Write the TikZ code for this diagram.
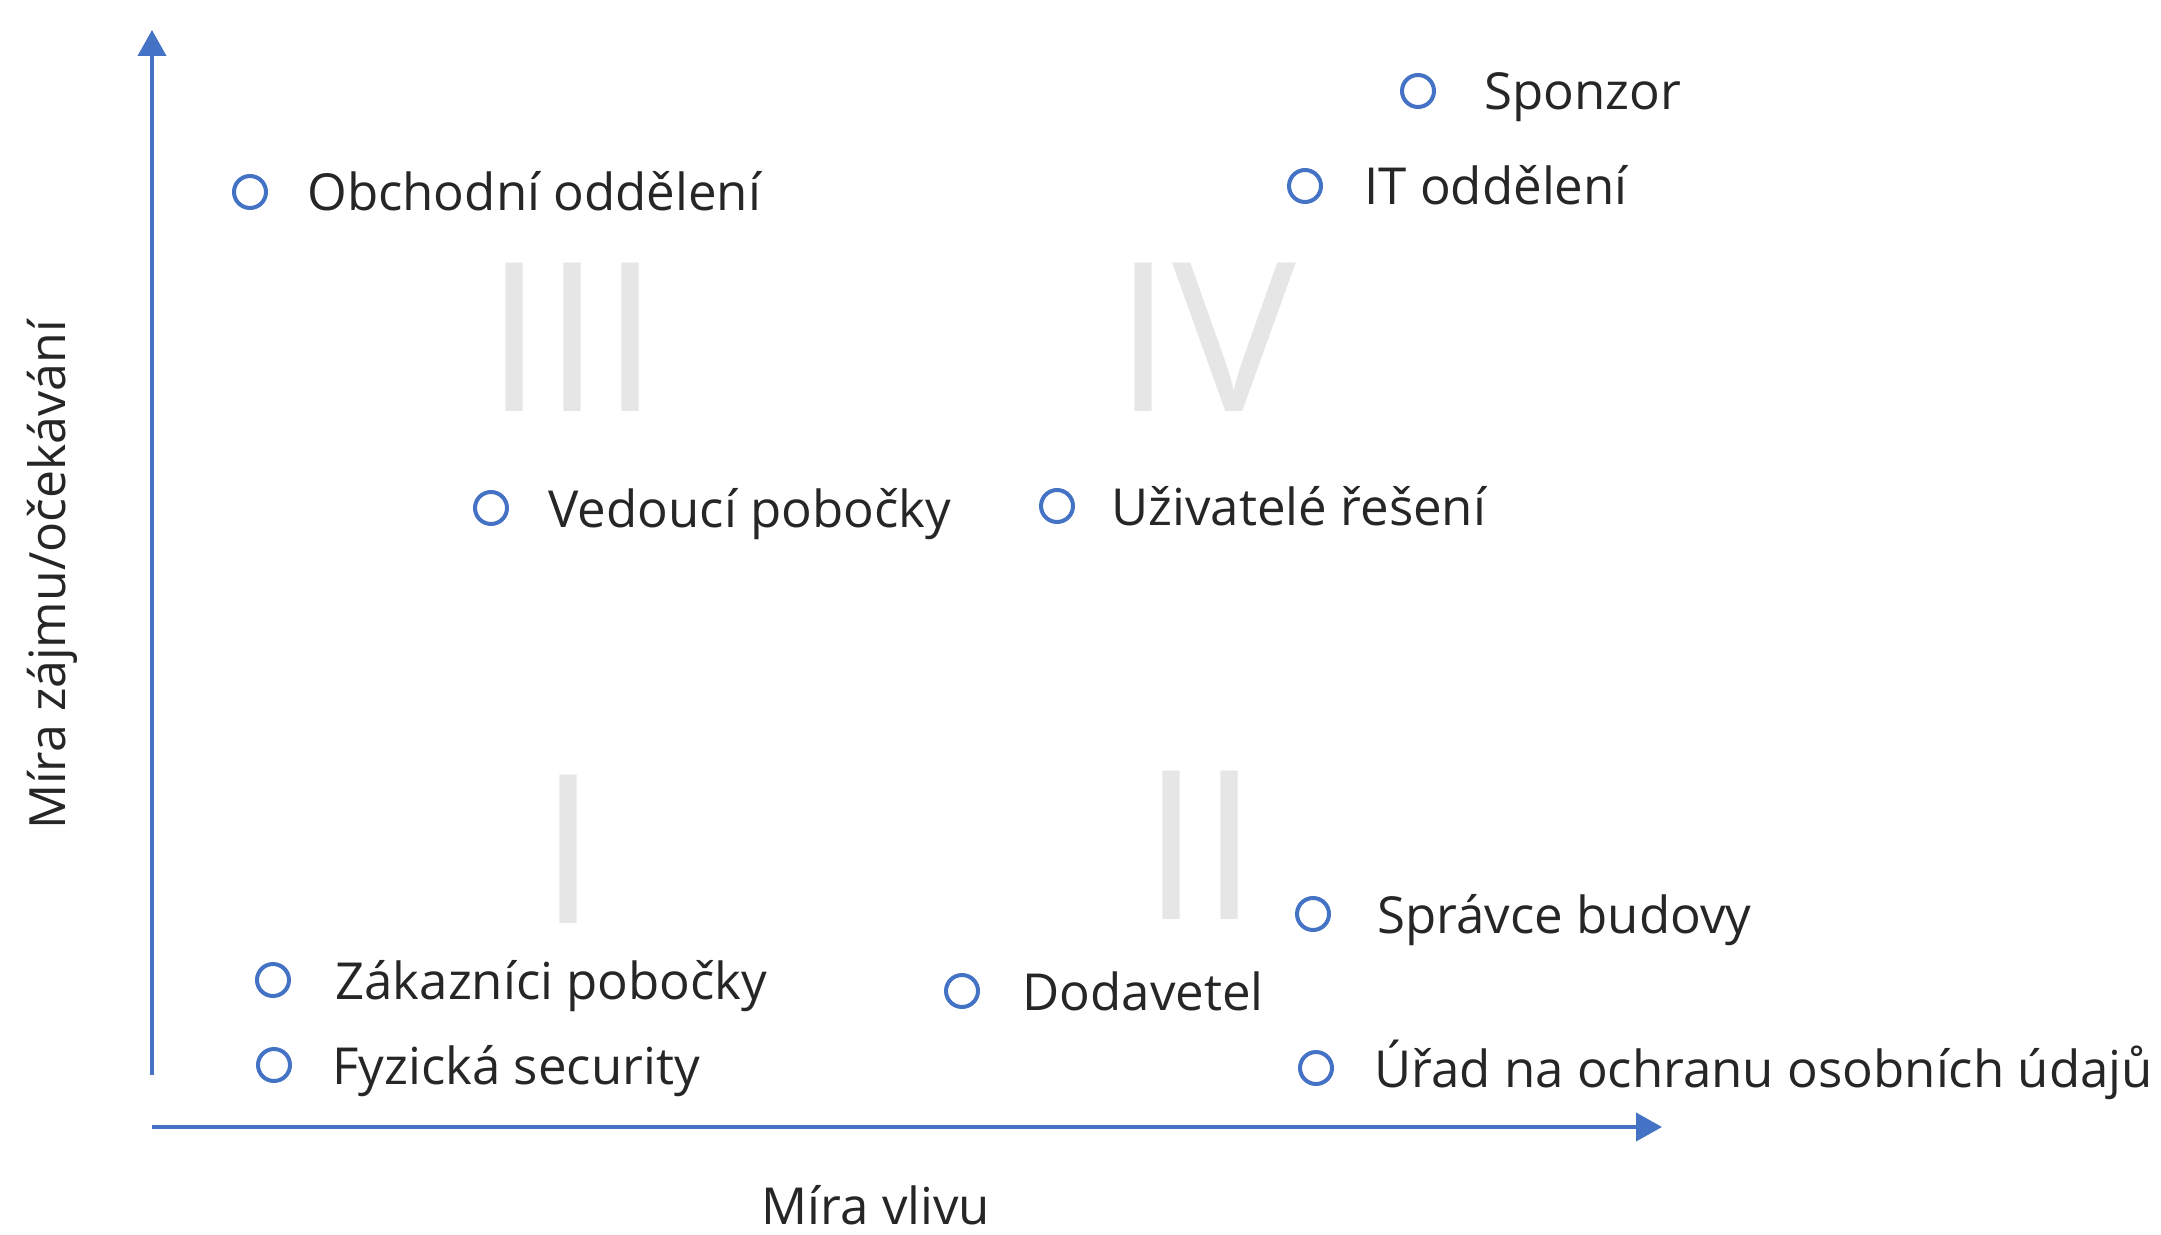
\documentclass[tikz,border=0pt]{standalone}
\usepackage{fontspec}
\setmainfont{Open Sans}
\usetikzlibrary{arrows.meta}
\definecolor{axisblue}{HTML}{4472C4}
\definecolor{labelgray}{HTML}{262626}
\definecolor{quadgray}{HTML}{E6E6E6}

\begin{document}
\begin{tikzpicture}[x=0.5pt,y=0.5pt,yscale=-1,xscale=1,
  axisline/.style={draw=axisblue,line width=2pt,-{Triangle[width=14pt,length=13pt]}},
  stakedot/.style={circle,draw=axisblue,line width=2pt,minimum size=16pt,inner sep=0pt},
  stakelabel/.style={anchor=base west,text=labelgray,inner sep=0pt,font=\fontsize{25.5}{30}\selectfont},
  quadnum/.style={anchor=base,text=quadgray,inner sep=0pt,font=\fontsize{104}{120}\selectfont}]
\useasboundingbox (0,0) rectangle (2161,1235);

% Quadrant numbers
\node[quadnum] (qthree) at (572,411) {III};
\node[quadnum] (qfour) at (1205,411) {IV};
\node[quadnum] (qone) at (568,923) {I};
\node[quadnum] (qtwo) at (1200,919) {II};

%Straight Lines (axes)
\coordinate (yfoot) at (152,1075);
\coordinate (ytip) at (152,30);
\coordinate (xfoot) at (152,1127);
\coordinate (xtip) at (1662,1127);
\draw[axisline] (yfoot) -- (ytip);
\draw[axisline] (xfoot) -- (xtip);

% Axis labels
\node[text=labelgray,font=\fontsize{25.5}{30}\selectfont,anchor=base] (xlabel) at (876,1224) {Míra vlivu};
\node[text=labelgray,font=\fontsize{25}{30}\selectfont,rotate=90] (ylabel) at (52,575) {Míra zájmu/očekávání};

% Stakeholders
\node[stakedot] (sponzor) at (1418,91) {};
\node[stakelabel] (sponzorL) at (1484,110) {Sponzor};

\node[stakedot] (itodd) at (1305,186) {};
\node[stakelabel] (itoddL) at (1364,205) {IT oddělení};

\node[stakedot] (obchod) at (250,192) {};
\node[stakelabel] (obchodL) at (307,211) {Obchodní oddělení};

\node[stakedot] (vedouci) at (491,508) {};
\node[stakelabel] (vedouciL) at (548,527) {Vedoucí pobočky};

\node[stakedot] (uzivatele) at (1057,506) {};
\node[stakelabel] (uzivateleL) at (1111,525) {Uživatelé řešení};

\node[stakedot] (spravce) at (1313,914) {};
\node[stakelabel] (spravceL) at (1377,933) {Správce budovy};

\node[stakedot] (zakaznici) at (273,980) {};
\node[stakelabel] (zakazniciL) at (335,999) {Zákazníci pobočky};

\node[stakedot] (dodavatel) at (962,991) {};
\node[stakelabel] (dodavatelL) at (1022,1010) {Dodavetel};

\node[stakedot] (fyzicka) at (274,1065) {};
\node[stakelabel] (fyzickaL) at (332,1084) {Fyzická security};

\node[stakedot] (urad) at (1316,1068) {};
\node[stakelabel] (uradL) at (1374,1087) {Úřad na ochranu osobních údajů};

\end{tikzpicture}
\end{document}
